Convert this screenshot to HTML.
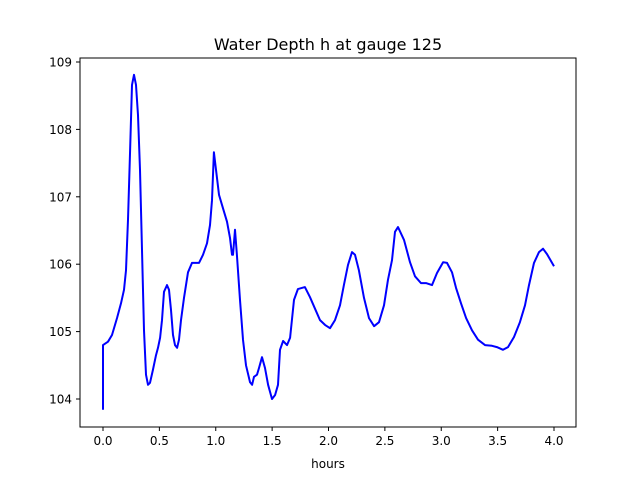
<!DOCTYPE html>
<html><head><meta charset="utf-8"><style>
html,body{margin:0;padding:0;background:#fff;}
svg text{font-family:"DejaVu Sans","Liberation Sans",sans-serif;fill:#000;}
</style></head><body>
<svg id="chart" width="640" height="480" xmlns="http://www.w3.org/2000/svg">
<rect width="640" height="480" fill="#fff"/>
<text x="328" y="50" font-size="16" text-anchor="middle">Water Depth h at gauge 125</text>
<text x="328" y="468" font-size="12" text-anchor="middle">hours</text>
<g id="ticks"></g>
<path id="line" fill="none" stroke="#0000ff" stroke-width="2" stroke-linejoin="round"/>
<rect x="80" y="58" width="496" height="369" fill="none" stroke="#000" stroke-width="1"/>
</svg>
<script>
const hours=[0,0,0,0.044,0.08,0.124,0.16,0.186,0.204,0.222,0.24,0.257,0.275,0.293,0.31,0.328,0.346,0.364,0.381,0.399,0.417,0.443,0.47,0.488,0.506,0.523,0.541,0.568,0.585,0.603,0.621,0.639,0.657,0.674,0.692,0.718,0.754,0.789,0.816,0.851,0.887,0.922,0.949,0.967,0.984,1.002,1.029,1.064,1.1,1.126,1.144,1.153,1.171,1.188,1.215,1.242,1.268,1.304,1.322,1.339,1.366,1.384,1.41,1.437,1.464,1.499,1.526,1.552,1.57,1.597,1.632,1.659,1.694,1.729,1.791,1.836,1.88,1.925,1.969,2.013,2.058,2.102,2.137,2.173,2.208,2.235,2.27,2.315,2.359,2.404,2.448,2.492,2.528,2.563,2.59,2.616,2.67,2.723,2.767,2.82,2.865,2.918,2.962,3.016,3.051,3.095,3.131,3.175,3.22,3.273,3.326,3.388,3.45,3.494,3.548,3.592,3.645,3.698,3.743,3.778,3.823,3.867,3.902,3.938,4.0];
const depth=[103.84,104.13,104.80,104.85,104.95,105.20,105.42,105.62,105.91,106.66,107.69,108.66,108.81,108.66,108.21,107.40,106.21,105.02,104.36,104.21,104.24,104.43,104.65,104.76,104.91,105.17,105.59,105.69,105.62,105.32,104.95,104.80,104.76,104.88,105.17,105.50,105.88,106.02,106.02,106.02,106.14,106.31,106.58,106.95,107.66,107.40,107.03,106.83,106.63,106.39,106.14,106.14,106.51,106.14,105.47,104.88,104.50,104.25,104.21,104.33,104.36,104.46,104.62,104.46,104.21,104.00,104.06,104.21,104.73,104.86,104.80,104.91,105.47,105.63,105.66,105.51,105.34,105.17,105.10,105.05,105.17,105.39,105.69,105.99,106.18,106.14,105.91,105.50,105.20,105.08,105.14,105.39,105.77,106.06,106.48,106.55,106.36,106.03,105.82,105.72,105.72,105.69,105.87,106.03,106.02,105.88,105.65,105.42,105.20,105.02,104.88,104.80,104.79,104.77,104.73,104.77,104.92,105.14,105.39,105.69,106.02,106.18,106.23,106.15,105.97];
const xTicks=[0,0.5,1,1.5,2,2.5,3,3.5,4];
const xTickLabels=["0.0","0.5","1.0","1.5","2.0","2.5","3.0","3.5","4.0"];
const yTicks=[104,105,106,107,108,109];
const yTickLabels=["104","105","106","107","108","109"];
const NS="http://www.w3.org/2000/svg";
function xs(v){return 103+v*112.75;}
function ys(v){return 399-(v-104)*67.4;}
const g=document.getElementById('ticks');
xTicks.forEach((t,i)=>{
  const l=document.createElementNS(NS,'line');
  
  
  l.setAttribute('x1',xs(t));l.setAttribute('x2',xs(t));l.setAttribute('y1',427);l.setAttribute('y2',431);l.setAttribute('stroke','#000');
  g.appendChild(l);
  const tx=document.createElementNS(NS,'text');
  
  
  tx.setAttribute('x',xs(t));tx.setAttribute('y',445);tx.setAttribute('font-size','12');tx.setAttribute('text-anchor','middle');
  tx.textContent=xTickLabels[i];g.appendChild(tx);
});
yTicks.forEach((t,i)=>{
  const l=document.createElementNS(NS,'line');
  
  
  l.setAttribute('x1',76);l.setAttribute('x2',80);l.setAttribute('y1',ys(t));l.setAttribute('y2',ys(t));l.setAttribute('stroke','#000');
  g.appendChild(l);
  const tx=document.createElementNS(NS,'text');
  
  
  tx.setAttribute('x',72);tx.setAttribute('y',ys(t)+4.5);tx.setAttribute('font-size','12');tx.setAttribute('text-anchor','end');
  tx.textContent=yTickLabels[i];g.appendChild(tx);
});
document.getElementById('line').setAttribute('d',hours.map((h,i)=>(i?'L':'M')+xs(h).toFixed(1)+','+ys(depth[i]).toFixed(1)).join(''));
</script>
</body></html>
